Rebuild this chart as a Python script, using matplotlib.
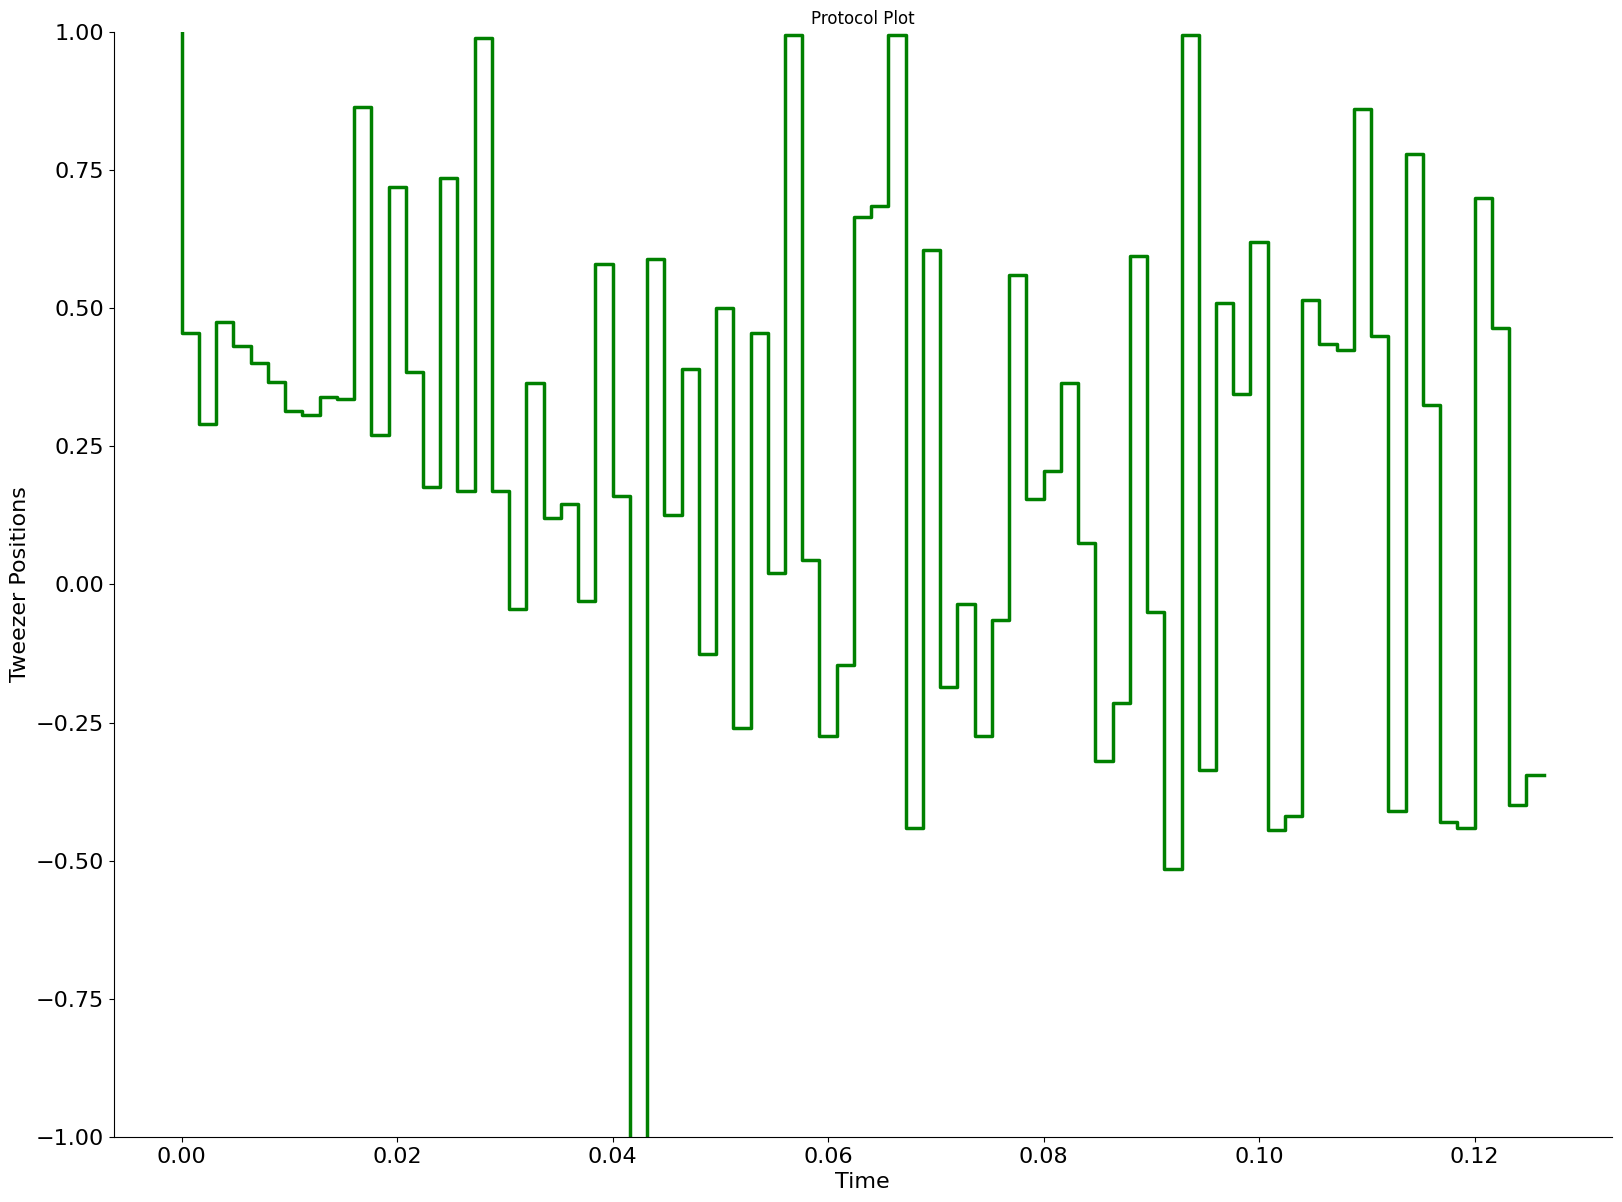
import numpy as np
import matplotlib
matplotlib.use("Agg")
import matplotlib.pyplot as plt

dt = 0.0016
positions = [1.0,
    0.455, 0.290, 0.475, 0.432, 0.401, 0.367, 0.314, 0.306, 0.339, 0.335,
    0.864, 0.271, 0.719, 0.385, 0.176, 0.736, 0.169, 0.990, 0.170, -0.045,
    0.365, 0.120, 0.145, -0.030, 0.580, 0.160, -1.050, 0.590, 0.125, 0.390,
    -0.125, 0.500, -0.260, 0.455, 0.020, 0.995, 0.045, -0.275, -0.145, 0.665,
    0.685, 0.995, -0.440, 0.605, -0.185, -0.035, -0.275, -0.065, 0.560, 0.155,
    0.205, 0.365, 0.075, -0.320, -0.215, 0.595, -0.050, -0.515, 0.995, -0.335,
    0.510, 0.345, 0.620, -0.445, -0.420, 0.515, 0.435, 0.425, 0.860, 0.450,
    -0.410, 0.780, 0.325, -0.430, -0.440, 0.700, 0.465, -0.400, -0.345]
times = np.arange(len(positions)) * dt

fig, ax = plt.subplots(figsize=(16.22, 12.02), dpi=100)
ax.step(times, positions, where='pre', color='green', linewidth=2.5)
ax.set_ylim(-1, 1)
ax.set_title("Protocol Plot", fontsize=12)
ax.set_xlabel("Time", fontsize=16)
ax.set_ylabel("Tweezer Positions", fontsize=16)
ax.tick_params(labelsize=16)
ax.spines['top'].set_visible(False)
ax.spines['right'].set_visible(False)
fig.subplots_adjust(left=0.070, right=0.9936, top=0.9733, bottom=0.0542)
fig.savefig("out.png", dpi=100)
